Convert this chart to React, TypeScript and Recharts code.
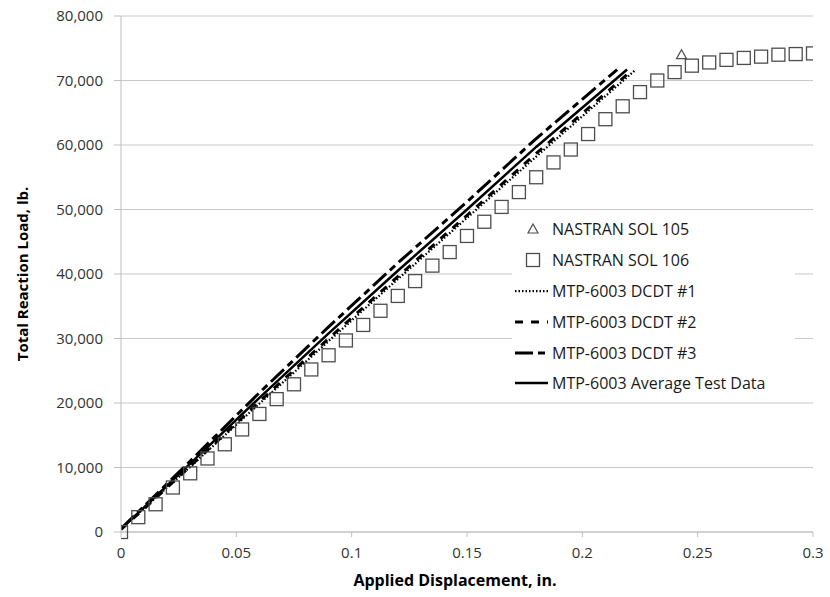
import React from "react";
import { ComposedChart, Line, Scatter, XAxis, YAxis, CartesianGrid } from "recharts";

// Load-displacement comparison: NASTRAN predictions vs. MTP-6003 DCDT test traces.

const X_TICKS = [0, 0.05, 0.1, 0.15, 0.2, 0.25, 0.3];
const Y_TICKS = [0, 10000, 20000, 30000, 40000, 50000, 60000, 70000, 80000];

const SOL106_X = [
  0, 0.0075, 0.015, 0.0225, 0.03, 0.0375, 0.045, 0.0525, 0.06, 0.0675,
  0.075, 0.0825, 0.09, 0.0975, 0.105, 0.1125, 0.12, 0.1275, 0.135, 0.1425,
  0.15, 0.1575, 0.165, 0.1725, 0.18, 0.1875, 0.195, 0.2025, 0.21, 0.2175,
  0.225, 0.2325, 0.24, 0.2475, 0.255, 0.2625, 0.27, 0.2775, 0.285, 0.2925, 0.3,
];
const SOL106_Y = [
  0, 2300, 4300, 6900, 9100, 11400, 13600, 15900, 18300, 20600,
  22900, 25200, 27400, 29700, 32100, 34300, 36600, 38900, 41300, 43400,
  45900, 48100, 50400, 52700, 55000, 57300, 59300, 61700, 64000, 66000,
  68200, 70000, 71300, 72300, 72800, 73200, 73500, 73700, 74000, 74100, 74200,
];

const SOL105_X = [0.243];
const SOL105_Y = [74000];

const DCDT1_X = [0, 0.01, 0.03, 0.06, 0.09, 0.12, 0.15, 0.18, 0.2229];
const DCDT1_Y = [600, 3700, 10100, 19900, 29600, 39200, 48700, 58200, 71600];
const DCDT2_X = [0, 0.01, 0.03, 0.06, 0.09, 0.12, 0.15, 0.18, 0.2212];
const DCDT2_Y = [400, 3600, 10200, 20200, 30000, 39600, 49100, 58700, 71500];
const DCDT3_X = [0, 0.01, 0.03, 0.06, 0.09, 0.12, 0.15, 0.18, 0.2151];
const DCDT3_Y = [500, 4000, 11000, 21600, 31800, 41700, 51200, 61000, 71700];
const AVG_X = [0, 0.01, 0.03, 0.06, 0.09, 0.12, 0.15, 0.18, 0.2194];
const AVG_Y = [500, 3800, 10600, 20800, 30800, 40500, 50000, 59700, 71700];

const pts = (xs: number[], ys: number[]) => xs.map((x, i) => ({ x, y: ys[i] }));

const FONT = "'Open Sans', sans-serif";
const TEXT = "#333";
const MARKER = "#4d4d4d";

const LINES = [
  { key: "d1", name: "MTP-6003 DCDT #1", data: pts(DCDT1_X, DCDT1_Y), dash: "1.5 2", width: 2.25 },
  { key: "d2", name: "MTP-6003 DCDT #2", data: pts(DCDT2_X, DCDT2_Y), dash: "8 8", width: 3 },
  { key: "d3", name: "MTP-6003 DCDT #3", data: pts(DCDT3_X, DCDT3_Y), dash: "18 5 7 5", width: 3 },
  { key: "avg", name: "MTP-6003 Average Test Data", data: pts(AVG_X, AVG_Y), dash: undefined, width: 2.5 },
];

function Square(props: any) {
  const { cx, cy } = props;
  if (cx == null || cy == null) return null;
  return <rect x={cx - 6.5} y={cy - 6.5} width={13} height={13} fill="none" stroke={MARKER} strokeWidth={1.3} />;
}

function Triangle(props: any) {
  const { cx, cy } = props;
  if (cx == null || cy == null) return null;
  return <path d={`M${cx},${cy - 5} L${cx + 5},${cy + 4} L${cx - 5},${cy + 4} Z`} fill="none" stroke={MARKER} strokeWidth={1.2} />;
}

function YTitle(props: any) {
  const vb = props.viewBox || {};
  const cy = vb.y + vb.height / 2;
  return (
    <text x={22} y={cy} transform={`rotate(-90, 22, ${cy})`} textAnchor="middle" dominantBaseline="central"
      fontFamily={FONT} fontSize={15} fontWeight={700} fill="#000">
      Total Reaction Load, lb.
    </text>
  );
}

function XTitle(props: any) {
  const vb = props.viewBox || {};
  const cx = vb.x + vb.width / 2 - 12;
  return (
    <text x={cx} y={580} textAnchor="middle" dominantBaseline="central"
      fontFamily={FONT} fontSize={16} fontWeight={700} fill="#000">
      Applied Displacement, in.
    </text>
  );
}

function LegendBox() {
  const rows: { name: string; kind: string; dash?: string; width?: number }[] = [
    { name: "NASTRAN SOL 105", kind: "tri" },
    { name: "NASTRAN SOL 106", kind: "sq" },
    ...LINES.map((l) => ({ name: l.name, kind: "line", dash: l.dash, width: l.width })),
  ];
  return (
    <div style={{ position: "absolute", left: 512, top: 214, width: 283, background: "#fff", fontFamily: FONT, fontSize: 16, color: "#1a1a1a" }}>
      {rows.map((r) => (
        <div key={r.name} style={{ display: "flex", alignItems: "center", height: 30.8 }}>
          <svg width={40} height={20} style={{ flex: "none" }}>
            {r.kind === "tri" && <path d="M21,5 L26,14 L16,14 Z" fill="none" stroke={MARKER} strokeWidth={1.2} />}
            {r.kind === "sq" && <rect x={14.5} y={3.5} width={13} height={13} fill="none" stroke={MARKER} strokeWidth={1.3} />}
            {r.kind === "line" && (
              <line x1={3} y1={10} x2={36} y2={10} stroke="#000" strokeWidth={r.width} strokeDasharray={r.dash} />
            )}
          </svg>
          <span style={{ whiteSpace: "nowrap" }}>{r.name}</span>
        </div>
      ))}
    </div>
  );
}

export default function App() {
  return (
    <div style={{ position: "absolute", left: 0, top: 0, width: 830, height: 597, background: "#fff" }}>
      <ComposedChart width={830} height={597} margin={{ top: 16, right: 17, bottom: 0, left: 0 }}>
        <CartesianGrid horizontal vertical={false} stroke="#c8c8c8" strokeWidth={1} />
        <XAxis
          type="number"
          dataKey="x"
          domain={[0, 0.3]}
          ticks={X_TICKS}
          allowDataOverflow
          height={65}
          stroke="#bfbfbf"
          tickSize={5}
          tickMargin={10}
          tick={{ fill: TEXT, fontSize: 15, fontFamily: FONT }}
          label={<XTitle />}
        />
        <YAxis
          type="number"
          domain={[0, 80000]}
          ticks={Y_TICKS}
          width={121}
          stroke="#bfbfbf"
          tickSize={7}
          tickMargin={11}
          tickFormatter={(v: number) => v.toLocaleString("en-US")}
          tick={{ fill: TEXT, fontSize: 15, fontFamily: FONT }}
          label={<YTitle />}
        />
        <Scatter name="NASTRAN SOL 106" data={pts(SOL106_X, SOL106_Y)} dataKey="y" shape={<Square />} isAnimationActive={false} />
        <Scatter name="NASTRAN SOL 105" data={pts(SOL105_X, SOL105_Y)} dataKey="y" shape={<Triangle />} isAnimationActive={false} />
        {LINES.map((l) => (
          <Line
            key={l.key}
            name={l.name}
            data={l.data}
            dataKey="y"
            type="linear"
            dot={false}
            activeDot={false}
            stroke="#000"
            strokeWidth={l.width}
            strokeDasharray={l.dash}
            isAnimationActive={false}
          />
        ))}
      </ComposedChart>
      <LegendBox />
    </div>
  );
}
